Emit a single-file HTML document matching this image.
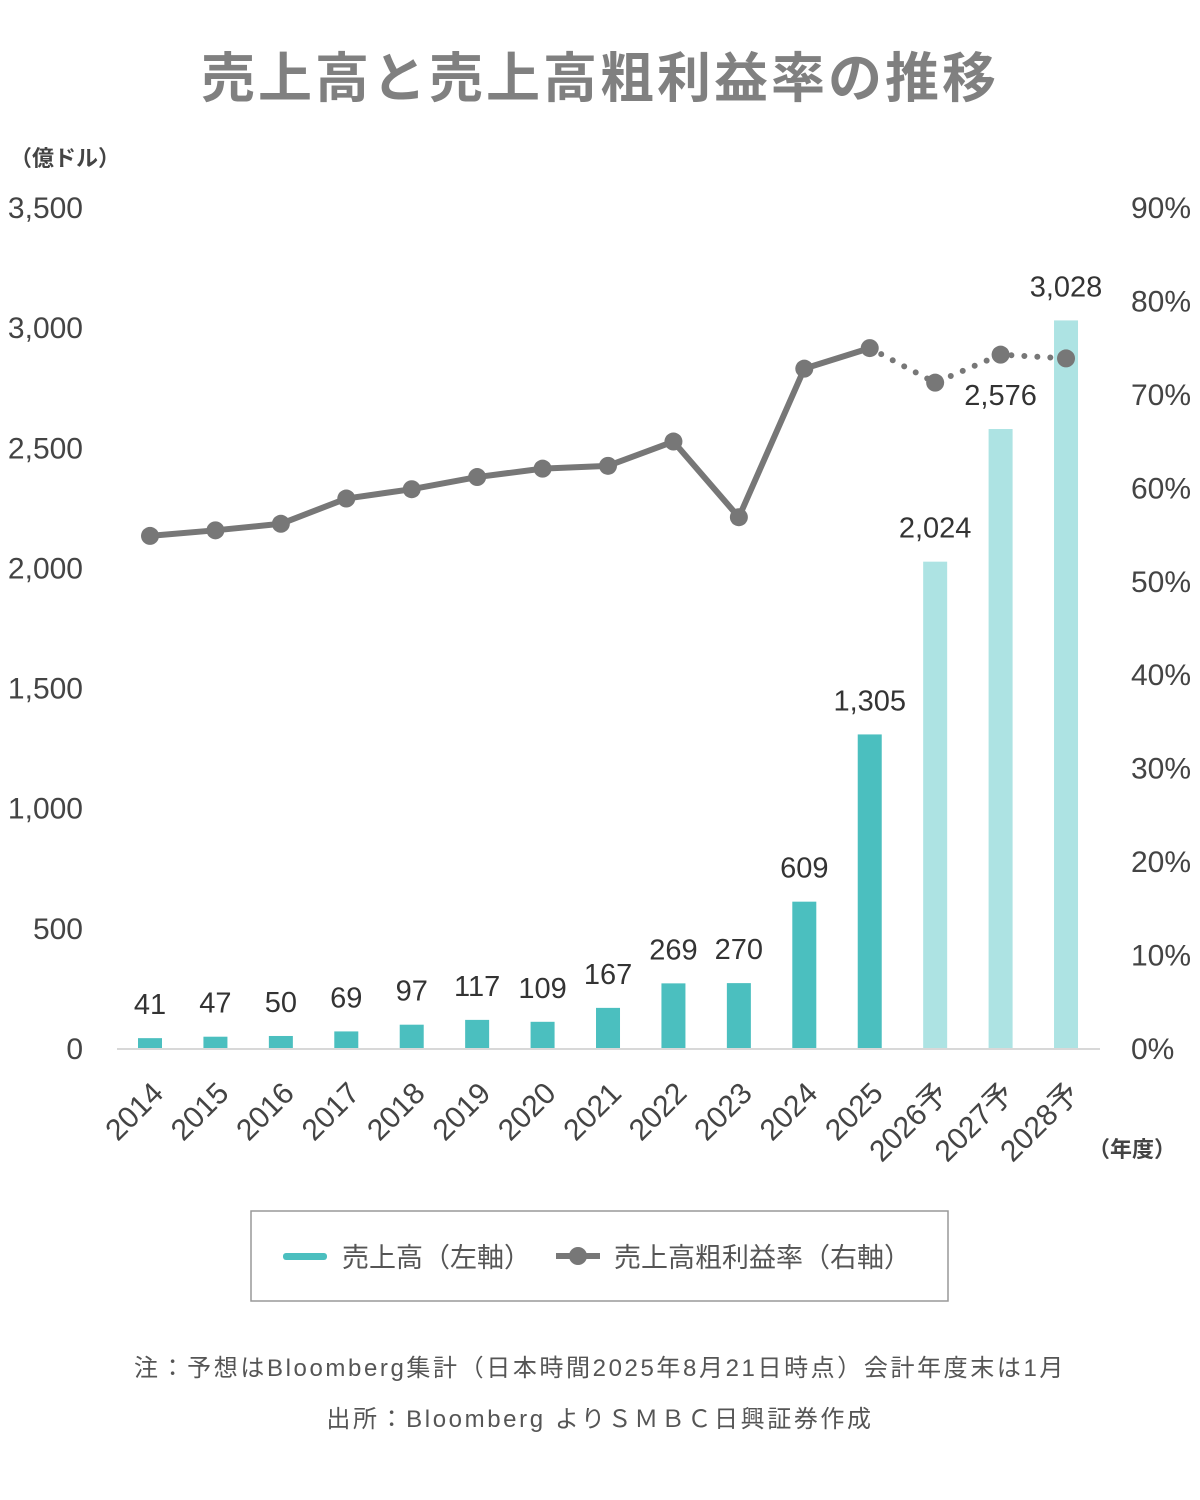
<!DOCTYPE html>
<html><head><meta charset="utf-8"><style>
body{margin:0;background:#fff;width:1200px;height:1500px;overflow:hidden;font-family:"Liberation Sans","Noto Sans CJK JP",sans-serif}
</style></head><body>
<svg width="1200" height="1500" style="position:absolute;left:0;top:0">
<text x="600" y="97" text-anchor="middle" font-size="54" font-weight="bold" fill="#808080" letter-spacing="3" font-family="Liberation Sans,Noto Sans CJK JP,sans-serif">売上高と売上高粗利益率の推移</text>
<text x="10" y="166" font-size="22" font-weight="bold" fill="#444" font-family="Liberation Sans,Noto Sans CJK JP,sans-serif">（億ドル）</text>
<text x="1088" y="1157" font-size="22" font-weight="bold" fill="#444" font-family="Liberation Sans,Noto Sans CJK JP,sans-serif">（年度）</text>
<g id="g"></g>
<rect x="251" y="1211" width="697" height="90" fill="none" stroke="#999" stroke-width="1.5"/>
<rect x="283" y="1253" width="44" height="7" rx="3" fill="#4bbfbf"/>
<text x="342" y="1267" font-size="27" fill="#555" font-family="Liberation Sans,Noto Sans CJK JP,sans-serif">売上高（左軸）</text>
<line x1="556" y1="1256" x2="600" y2="1256" stroke="#777" stroke-width="6"/>
<circle cx="578" cy="1256" r="9" fill="#777"/>
<text x="614" y="1267" font-size="27" fill="#555" font-family="Liberation Sans,Noto Sans CJK JP,sans-serif">売上高粗利益率（右軸）</text>
<text x="600" y="1376" text-anchor="middle" font-size="24" fill="#555" letter-spacing="2.6" font-family="Liberation Sans,Noto Sans CJK JP,sans-serif">注：予想はBloomberg集計（日本時間2025年8月21日時点）会計年度末は1月</text>
<text x="600" y="1427" text-anchor="middle" font-size="24" fill="#555" letter-spacing="2.6" font-family="Liberation Sans,Noto Sans CJK JP,sans-serif">出所：Bloomberg よりＳＭＢＣ日興証券作成</text>
</svg>
<script>
const categories=["2014","2015","2016","2017","2018","2019","2020","2021","2022","2023","2024","2025","2026予","2027予","2028予"];
const sales=[41,47,50,69,97,117,109,167,269,270,609,1305,2024,2576,3028];
const margin=[54.8,55.4,56.1,58.8,59.8,61.1,62.0,62.3,64.9,56.8,72.7,74.9,71.2,74.2,73.8];
const forecastStart=12;
const leftTicks=[0,500,1000,1500,2000,2500,3000,3500];
const rightTicks=[0,10,20,30,40,50,60,70,80,90];
const NS="http://www.w3.org/2000/svg",g=document.getElementById('g');
const y0=1048,yTop=207;
const yL=v=>y0-v/3500*(y0-yTop), yR=v=>y0-v/90*(y0-yTop), xC=i=>150+i*65.43;
function mk(t,a,txt){const e=document.createElementNS(NS,t);for(const k in a)e.setAttribute(k,a[k]);if(txt!=null)e.textContent=txt;g.appendChild(e);return e;}
const F="Liberation Sans,Noto Sans CJK JP,sans-serif";
leftTicks.forEach(v=>{const e=mk('text',{x:83,y:yL(v)+11,'text-anchor':'end','font-size':30,fill:'#444','font-family':F},v.toLocaleString('en-US'));

});
rightTicks.forEach(v=>{const e=mk('text',{x:1131,y:yR(v)+11,'font-size':30,fill:'#444','font-family':F},v+'%');

});
const ax=mk('line',{x1:117,y1:y0+1,x2:1100,y2:y0+1,stroke:'#ccc','stroke-width':1.5});


categories.forEach((c,i)=>{const x=xC(i),y=yL(sales[i]);
const r=mk('rect',{x:x-12,y:y,width:24,height:y0-y,fill:i>=forecastStart?'#ade3e3':'#4bbfbf'});


const t=mk('text',{x:x,y:y-24,'text-anchor':'middle','font-size':29,fill:'#333','font-family':F},sales[i].toLocaleString('en-US'));


const lx=x+15,ly=1095;
const l=mk('text',{x:lx,y:ly,'text-anchor':'end','font-size':30,fill:'#444','font-family':F,transform:`rotate(-45 ${lx} ${ly})`},c);

});
const pts=margin.map((m,i)=>[xC(i),yR(m)]);
const solid=pts.slice(0,forecastStart).map(p=>p.join(',')).join(' ');
const dot=pts.slice(forecastStart-1).map(p=>p.join(',')).join(' ');
const p1=mk('polyline',{points:solid,fill:'none',stroke:'#777','stroke-width':6,'stroke-linejoin':'round'});


const p2=mk('polyline',{points:dot,fill:'none',stroke:'#777','stroke-width':6,'stroke-dasharray':'0 13','stroke-linecap':'round'});


pts.forEach(p=>{const c=mk('circle',{cx:p[0],cy:p[1],r:9,fill:'#777'});

});
</script>
</body></html>
